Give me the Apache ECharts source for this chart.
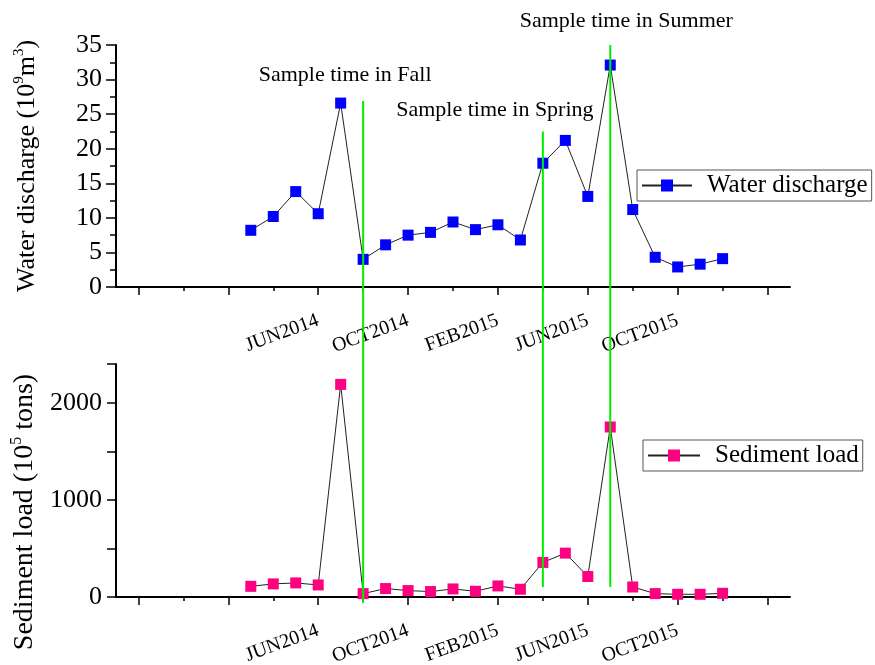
<!DOCTYPE html>
<html>
<head>
<meta charset="utf-8">
<script src="https://cdn.jsdelivr.net/npm/echarts@6/dist/echarts.min.js"></script>
<style>
  html, body { margin: 0; padding: 0; background: #fff; }
  #chart { width: 875px; height: 665px; }
</style>
</head>
<body>
<div id="chart"></div>
<script>
// Monthly time axis shared by both panels
const axisMonths = [
  'SEP2013','OCT2013','NOV2013','DEC2013','JAN2014','FEB2014','MAR2014','APR2014',
  'MAY2014','JUN2014','JUL2014','AUG2014','SEP2014','OCT2014','NOV2014','DEC2014',
  'JAN2015','FEB2015','MAR2015','APR2015','MAY2015','JUN2015','JUL2015','AUG2015',
  'SEP2015','OCT2015','NOV2015','DEC2015','JAN2016','FEB2016','MAR2016'
];
const labelledMonths = ['JUN2014','OCT2014','FEB2015','JUN2015','OCT2015'];

// Monthly observations, MAR2014 .. DEC2015
const sampleMonths = [
  'MAR2014','APR2014','MAY2014','JUN2014','JUL2014','AUG2014','SEP2014','OCT2014',
  'NOV2014','DEC2014','JAN2015','FEB2015','MAR2015','APR2015','MAY2015','JUN2015',
  'JUL2015','AUG2015','SEP2015','OCT2015','NOV2015','DEC2015'
];
const waterDischarge = [8.2, 10.2, 13.8, 10.6, 26.6, 4.0, 6.1, 7.5, 7.9, 9.4, 8.3,
  9.0, 6.8, 17.9, 21.2, 13.1, 32.1, 11.2, 4.3, 2.9, 3.3, 4.1];
const sedimentLoad = [110, 135, 145, 124, 2190, 35, 87, 66, 56, 83, 59, 114, 80,
  356, 452, 211, 1751, 103, 35, 28, 28, 38];

// Sampling campaigns: vertical markers spanning both panels.
// Heights use the discharge scale extended downward through the lower panel.
const sampleNames = ['Sample time in Fall', 'Sample time in Spring', 'Sample time in Summer'];
const sampleMarkMonths = ['AUG2014', 'APR2015', 'JUL2015'];
const sampleMarkTop = [26.9, 22.5, 35];
const sampleMarkBottom = [-45.7, -43.4, -43.4];

const FONT = 'Liberation Serif';
const BLACK = '#000';

function timeAxes(gridIndex) {
  return [
    {
      type: 'category', gridIndex, data: axisMonths, boundaryGap: false,
      position: 'bottom', offset: 0,
      axisLine: { lineStyle: { color: BLACK, width: 2 } },
      axisTick: { interval: (i) => i % 2 === 1, length: 4, lineStyle: { color: BLACK, width: 1.5 } },
      axisLabel: {
        interval: (i, v) => labelledMonths.includes(v),
        rotate: 20, margin: 33, color: BLACK, fontFamily: FONT, fontSize: 20
      },
      splitLine: { show: false }
    },
    {
      // longer ticks every four months
      type: 'category', gridIndex, data: axisMonths, boundaryGap: false,
      position: 'bottom', offset: 0,
      axisLine: { show: false },
      axisTick: { interval: (i) => i % 4 === 1, length: 8, lineStyle: { color: BLACK, width: 1.5 } },
      axisLabel: { show: false },
      splitLine: { show: false }
    }
  ];
}

const valueLabel = { color: BLACK, fontFamily: FONT, fontSize: 26, margin: 14 };

const option = {
  animation: false,
  backgroundColor: '#fff',
  grid: [
    { left: 116, right: 85, top: 45, height: 242, outerBoundsMode: 'none', containLabel: false },
    { left: 116, right: 85, top: 364, height: 233, outerBoundsMode: 'none', containLabel: false },
    { left: 116, right: 85, top: 45, height: 558, outerBoundsMode: 'none', containLabel: false }
  ],
  xAxis: [
    ...timeAxes(0),
    ...timeAxes(1),
    { type: 'category', gridIndex: 2, data: axisMonths, boundaryGap: false, show: false }
  ],
  yAxis: [
    {
      type: 'value', gridIndex: 0, min: 0, max: 35, interval: 5,
      axisLine: { show: true, lineStyle: { color: BLACK, width: 2 } },
      axisTick: { show: true, length: 10, lineStyle: { color: BLACK, width: 1.5 } },
      minorTick: { show: true, splitNumber: 2, length: 6, lineStyle: { color: BLACK, width: 1.5 } },
      axisLabel: valueLabel,
      splitLine: { show: false },
      name: '{t|Water discharge (10}{s|9}{t|m}{s|3}{t|)}',
      nameLocation: 'middle', nameGap: 74, nameRotate: 90,
      nameTextStyle: {
        rich: {
          t: { fontFamily: FONT, fontSize: 26, color: BLACK, lineHeight: 30 },
          s: { fontFamily: FONT, fontSize: 15, color: BLACK, verticalAlign: 'top', lineHeight: 15 }
        }
      }
    },
    {
      type: 'value', gridIndex: 1, min: 0, max: 2400, interval: 500,
      axisLine: { show: true, lineStyle: { color: BLACK, width: 2 } },
      axisTick: { show: true, length: 9, lineStyle: { color: BLACK, width: 1.5 } },
      axisLabel: Object.assign({}, valueLabel, {
        formatter: (v) => (v % 1000 === 0 ? String(v) : '')
      }),
      splitLine: { show: false },
      name: '{t|Sediment load (10}{s|5}{t| tons)}',
      nameLocation: 'middle', nameGap: 72, nameRotate: 90,
      nameTextStyle: {
        padding: [0, 63, 0, 0],
        rich: {
          t: { fontFamily: FONT, fontSize: 28, color: BLACK, lineHeight: 32 },
          s: { fontFamily: FONT, fontSize: 16, color: BLACK, verticalAlign: 'top', lineHeight: 16 }
        }
      }
    },
    { type: 'value', gridIndex: 2, min: -45.7, max: 35, show: false }
  ],
  legend: [
    {
      data: ['Water discharge'], left: 637, top: 170,
      orient: 'horizontal', itemWidth: 50, itemHeight: 15,
      padding: [3, 4, 3, 4], borderColor: '#555', borderWidth: 1,
      textStyle: { fontFamily: FONT, fontSize: 25, color: BLACK, padding: [0, 0, 0, 10] }
    },
    {
      data: ['Sediment load'], left: 643, top: 440,
      orient: 'horizontal', itemWidth: 52, itemHeight: 15,
      padding: [3, 4, 3, 4], borderColor: '#555', borderWidth: 1,
      textStyle: { fontFamily: FONT, fontSize: 25, color: BLACK, padding: [0, 0, 0, 10] }
    }
  ],
  series: [
    {
      name: 'Water discharge', type: 'line', xAxisIndex: 0, yAxisIndex: 0,
      data: sampleMonths.map((m, i) => [m, waterDischarge[i]]),
      symbol: 'rect', symbolSize: 11,
      itemStyle: { color: '#0000ff' },
      lineStyle: { color: '#222', width: 1 },
      z: 3
    },
    {
      name: 'Sediment load', type: 'line', xAxisIndex: 2, yAxisIndex: 1,
      data: sampleMonths.map((m, i) => [m, sedimentLoad[i]]),
      symbol: 'rect', symbolSize: 11,
      itemStyle: { color: '#ff0080' },
      lineStyle: { color: '#222', width: 1 },
      z: 3
    },
    ...sampleNames.map((name, i) => ({
      name, type: 'line', xAxisIndex: 4, yAxisIndex: 2,
      symbol: 'circle', symbolSize: 0, z: 5,
      lineStyle: { color: '#00ee00', width: 2 },
      itemStyle: { color: '#00ee00' },
      label: { show: false },
      data: [
        {
          value: [sampleMarkMonths[i], sampleMarkTop[i]],
          label: {
            show: true, position: 'top', formatter: name,
            fontFamily: FONT, fontSize: 22, color: BLACK,
            offset: [[-18, -10], [-48, -5], [16, -8]][i]
          }
        },
        [sampleMarkMonths[i], sampleMarkBottom[i]]
      ]
    }))
  ]
};

echarts.init(document.getElementById('chart'), null, { renderer: 'canvas' }).setOption(option);
</script>
</body>
</html>
